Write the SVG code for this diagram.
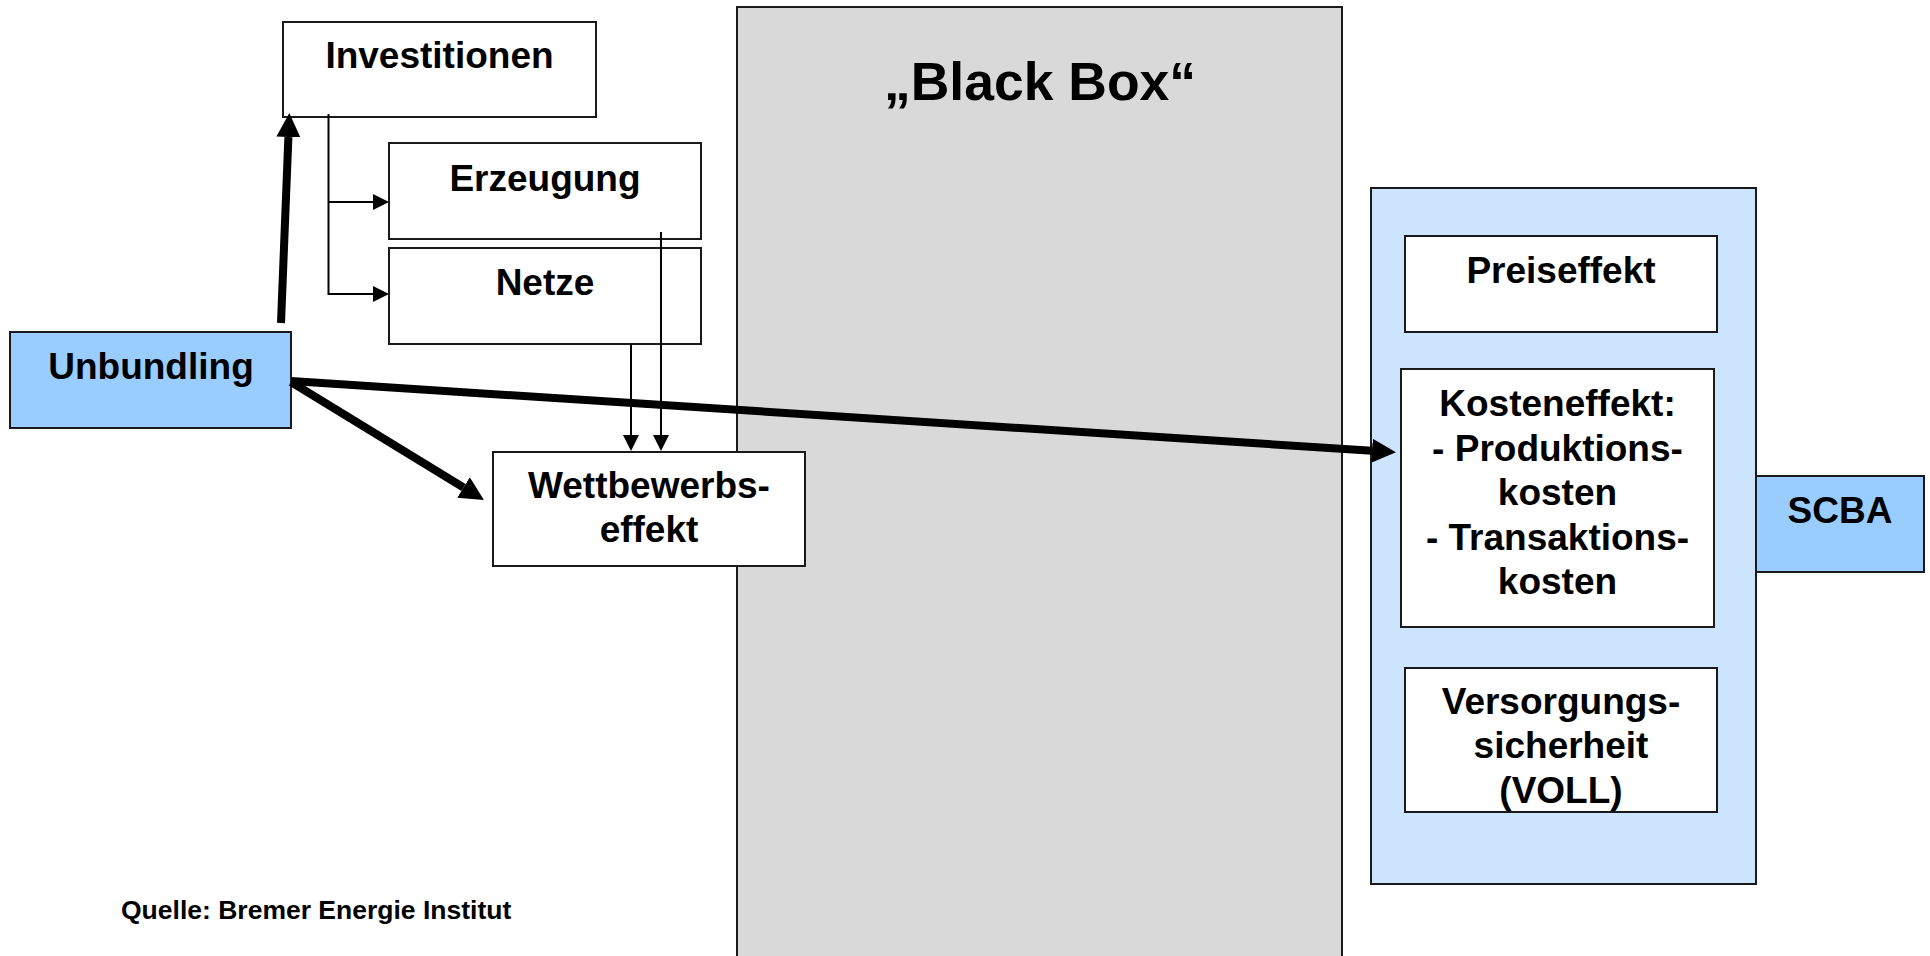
<svg xmlns="http://www.w3.org/2000/svg" width="1930" height="956" viewBox="0 0 1930 956">
  <style>
    .box { fill: #ffffff; stroke: #1a1a1a; stroke-width: 2; }
    .blue { fill: #99ccff; stroke: #1a1a1a; stroke-width: 2; }
    .pale { fill: #cce4fd; stroke: #1a1a1a; stroke-width: 2; }
    .grey { fill: #d9d9d9; stroke: #1a1a1a; stroke-width: 2; }
    text { font-family: "Liberation Sans", Arial, sans-serif; font-weight: bold; fill: #000000; }
    .lbl { font-size: 37px; text-anchor: middle; }
    .big { font-size: 53.5px; text-anchor: middle; }
    .src { font-size: 26.5px; }
    .thin { stroke: #000000; stroke-width: 2; fill: none; }
    .thick { stroke: #000000; stroke-width: 8; fill: none; }
  </style>
  <defs>
    <marker id="headBig" markerUnits="userSpaceOnUse" markerWidth="26" markerHeight="26" refX="0" refY="12" orient="auto" viewBox="0 0 26 24">
      <path d="M0,0 L24,12 L0,24 Z" fill="#000000"/>
    </marker>
    <marker id="headSmall" markerUnits="userSpaceOnUse" markerWidth="18" markerHeight="18" refX="0" refY="8" orient="auto" viewBox="0 0 18 16">
      <path d="M0,0 L16,8 L0,16 Z" fill="#000000"/>
    </marker>
  </defs>

  <!-- opaque middle stage -->
  <g id="blackbox">
    <rect class="grey" x="737" y="7" width="605" height="960"/>
    <text class="big" x="1040" y="100">„Black Box“</text>
  </g>

  <!-- evaluation frame on the right -->
  <g id="bewertung">
    <rect class="pale" x="1371" y="188" width="385" height="696"/>
  </g>

  <g id="investitionen">
    <rect class="box" x="283" y="22" width="313" height="95"/>
    <text class="lbl" x="439.5" y="68">Investitionen</text>
  </g>

  <g id="erzeugung">
    <rect class="box" x="389" y="143" width="312" height="96"/>
    <text class="lbl" x="545" y="191">Erzeugung</text>
  </g>

  <g id="netze">
    <rect class="box" x="389" y="248" width="312" height="96"/>
    <text class="lbl" x="545" y="295">Netze</text>
  </g>

  <g id="unbundling">
    <rect class="blue" x="10" y="332" width="281" height="96"/>
    <text class="lbl" x="151" y="379">Unbundling</text>
  </g>

  <g id="wettbewerbseffekt">
    <rect class="box" x="493" y="452" width="312" height="114"/>
    <text class="lbl" x="649" y="498">Wettbewerbs-</text>
    <text class="lbl" x="649" y="542">effekt</text>
  </g>

  <g id="preiseffekt">
    <rect class="box" x="1405" y="236" width="312" height="96"/>
    <text class="lbl" x="1561" y="283">Preiseffekt</text>
  </g>

  <g id="kosteneffekt">
    <rect class="box" x="1401" y="369" width="313" height="258"/>
    <text class="lbl" x="1557.5" y="416">Kosteneffekt:</text>
    <text class="lbl" x="1557.5" y="461">- Produktions-</text>
    <text class="lbl" x="1557.5" y="505">kosten</text>
    <text class="lbl" x="1557.5" y="550">- Transaktions-</text>
    <text class="lbl" x="1557.5" y="594">kosten</text>
  </g>

  <g id="versorgungssicherheit">
    <rect class="box" x="1405" y="668" width="312" height="144"/>
    <text class="lbl" x="1561" y="714">Versorgungs-</text>
    <text class="lbl" x="1561" y="758">sicherheit</text>
    <text class="lbl" x="1561" y="803">(VOLL)</text>
  </g>

  <g id="scba">
    <rect class="blue" x="1756" y="476" width="168" height="96"/>
    <text class="lbl" x="1840" y="523">SCBA</text>
  </g>

  <g id="connectors">
    <!-- Investitionen splits into Erzeugung and Netze -->
    <line class="thin" x1="328.5" y1="114" x2="328.5" y2="295"/>
    <line class="thin" x1="328.5" y1="202" x2="373" y2="202" marker-end="url(#headSmall)"/>
    <line class="thin" x1="328.5" y1="294" x2="373" y2="294" marker-end="url(#headSmall)"/>
    <!-- Erzeugung / Netze feed the competition effect -->
    <line class="thin" x1="661" y1="232" x2="661" y2="435" marker-end="url(#headSmall)"/>
    <line class="thin" x1="631" y1="344" x2="631" y2="435" marker-end="url(#headSmall)"/>
    <!-- main effects of unbundling -->
    <line class="thick" x1="281" y1="323" x2="288.4" y2="137" marker-end="url(#headBig)"/>
    <line class="thick" x1="291" y1="382" x2="463.5" y2="487.5" marker-end="url(#headBig)"/>
    <line class="thick" x1="291" y1="381" x2="1372" y2="450.8" marker-end="url(#headBig)"/>
  </g>

  <g id="quelle">
    <text class="src" x="121" y="919">Quelle: Bremer Energie Institut</text>
  </g>
</svg>
